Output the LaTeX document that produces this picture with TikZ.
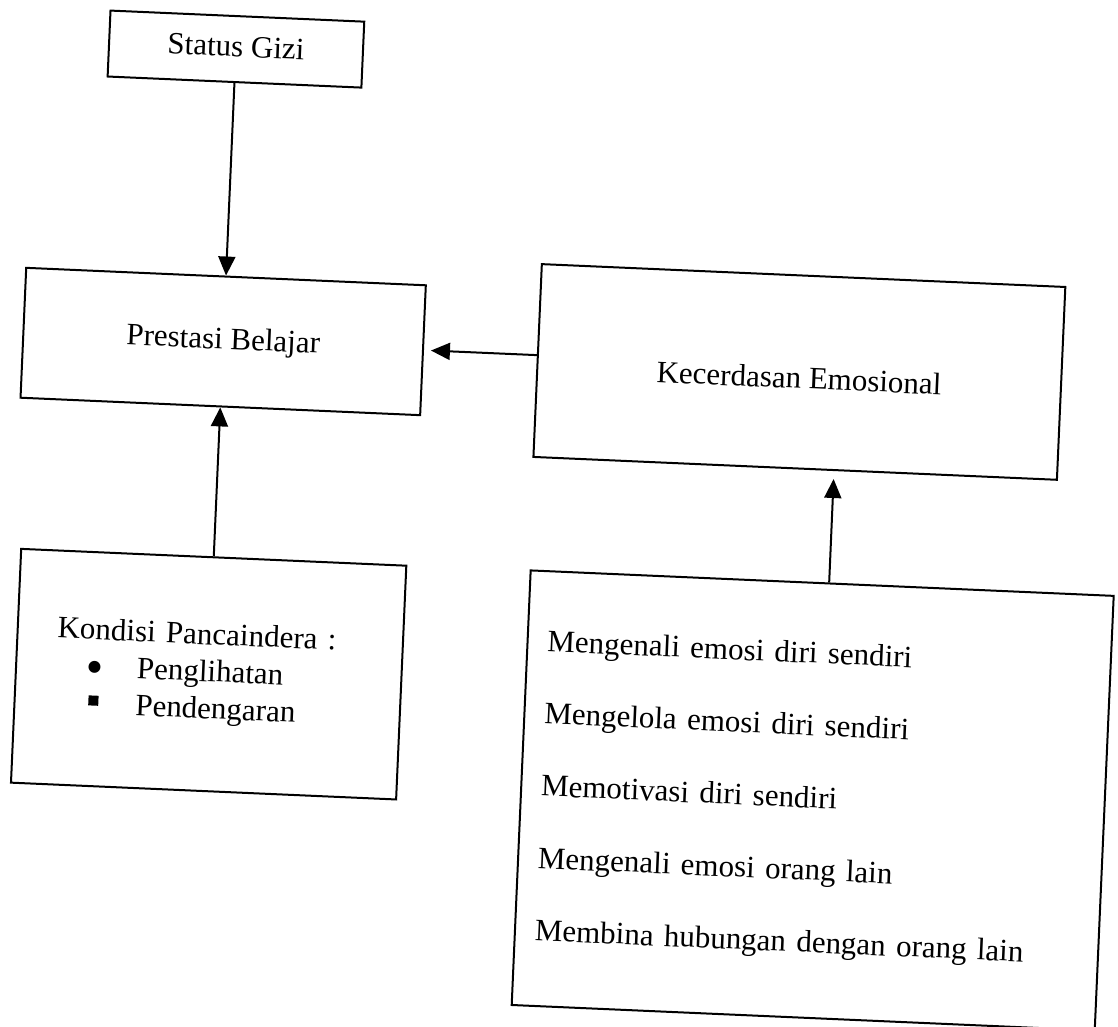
\documentclass[tikz,border=0pt]{standalone}
\usepackage{fontspec}
\setmainfont{Liberation Serif}
\usetikzlibrary{arrows.meta,calc}
\begin{document}
\begin{tikzpicture}[x=1pt,y=-1pt,
  box/.style={draw, line width=2pt, inner sep=0pt, font=\fontsize{31}{37}\selectfont},
  arr/.style={line width=2pt, -{Triangle[length=19pt,width=17pt]}}]
\fill[white] (0,0) rectangle (1118,1027);
\useasboundingbox (0,0) rectangle (1118,1027);
\begin{scope}[rotate around={-2.5:(559,513)}, transform shape]
\node[box, minimum width=254pt, minimum height=66pt, text height=21pt, text depth=6pt] (sg) at (216,63.6) {Status Gizi};
\node[box, minimum width=400pt, minimum height=130pt] (pb) at (216,356.3) {Prestasi Belajar};
\node[box, minimum width=524pt, minimum height=193pt, text height=33pt, text depth=0pt] (kec) at (793,361.6) {Kecerdasan Emosional};
\node[box, minimum width=385.5pt, minimum height=234pt, text width=305.5pt, inner xsep=40pt, align=left] (kon) at (216,689.3)
  {Kondisi Pancaindera :\\
   \hspace*{30pt}\makebox[51pt][l]{\fontsize{50}{37}\selectfont\raisebox{-7pt}{•}}Penglihatan\\
   \hspace*{33.75pt}\makebox[47.25pt][l]{\rule[8pt]{10pt}{10pt}}Pendengaran};
\node[box, minimum width=583.6pt, minimum height=435pt, text width=543.6pt, inner xsep=20pt, align=left,
      font=\fontsize{31}{72.3}\selectfont] (lst) at (825,789.1)
  {Mengenali emosi diri sendiri\\
   Mengelola emosi diri sendiri\\
   Memotivasi diri sendiri\\
   Mengenali emosi orang lain\\
   Membina hubungan dengan orang lain};
\draw[arr] (sg.south) -- (pb.north);
\draw[arr] (kon.north) -- (pb.south);
\draw[arr, shorten >=7pt] ($(kec.north west)!0.4726!(kec.south west)$) -- (pb.east);
\draw[arr, shorten >=8pt] ($(lst.north west)!0.512!(lst.north east)$) -- ($(kec.south west)!0.574!(kec.south east)$);
\end{scope}
\end{tikzpicture}
\end{document}
